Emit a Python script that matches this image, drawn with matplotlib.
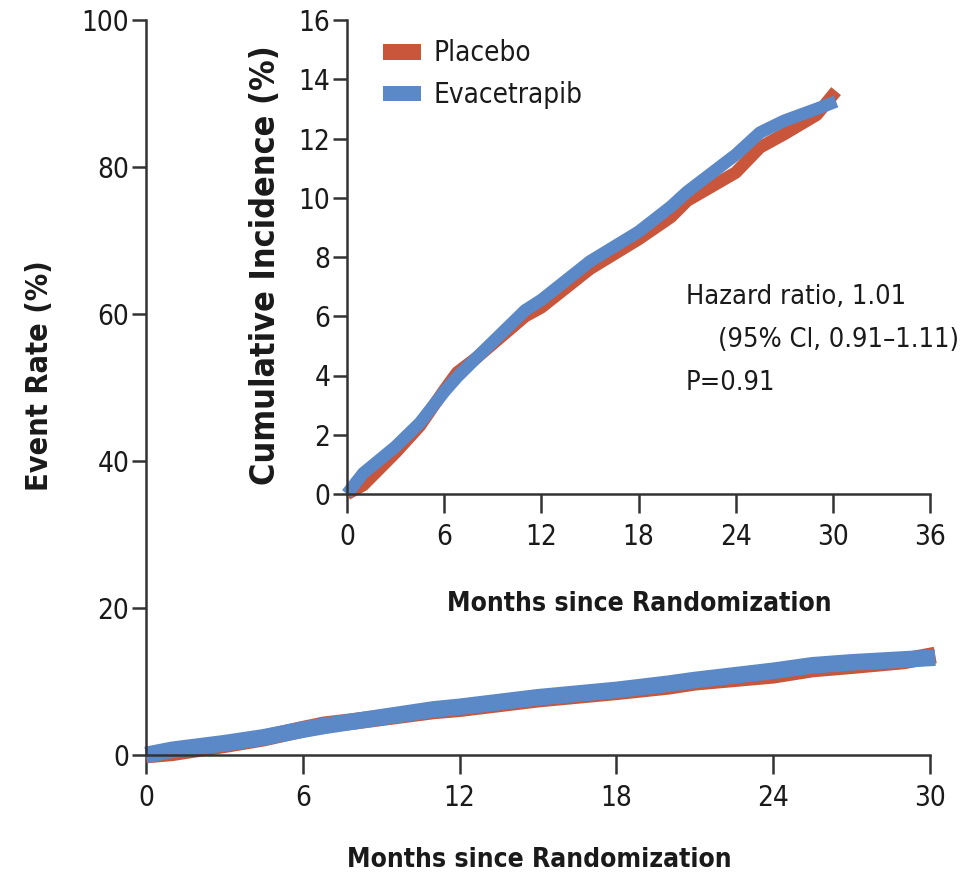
import matplotlib
matplotlib.use("Agg")
import matplotlib.pyplot as plt
from matplotlib.patches import Patch

# ---- data ----
months = [0, 1, 3, 4.5, 6, 6.8, 8, 9.5, 11, 12, 15, 18, 20, 21, 24, 25.5, 27, 29, 30.2]
evacetrapib = [0, 0.7, 1.6, 2.4, 3.45, 3.95, 4.6, 5.4, 6.2, 6.55, 7.85, 8.85, 9.7, 10.2, 11.45, 12.2, 12.6, 13.0, 13.25]
placebo = [0, 0.3, 1.4, 2.3, 3.5, 4.1, 4.6, 5.3, 6.0, 6.3, 7.6, 8.6, 9.35, 9.9, 10.85, 11.7, 12.15, 12.8, 13.6]

main_xticks = [0, 6, 12, 18, 24, 30]
main_yticks = [0, 20, 40, 60, 80, 100]
inset_xticks = [0, 6, 12, 18, 24, 30, 36]
inset_yticks = [0, 2, 4, 6, 8, 10, 12, 14, 16]
series_names = ["Placebo", "Evacetrapib"]
stats_lines = ["Hazard ratio, 1.01", "(95% Cl, 0.91\u20131.11)", "P=0.91"]

RED = "#C9553A"
BLUE = "#5B88C6"
AX = "#333333"
TXT = "#1a1a1a"

plt.rcParams["font.family"] = ["DejaVu Sans"]
plt.rcParams["font.stretch"] = "condensed"
FS = 20

W, H = 972, 882
fig = plt.figure(figsize=(W / 100, H / 100), dpi=100)


def fx(px):
    return px / W


def fy(py):
    return 1 - py / H


def style(ax):
    for s in ("top", "right"):
        ax.spines[s].set_visible(False)
    for s in ("left", "bottom"):
        ax.spines[s].set_color(AX)
        ax.spines[s].set_linewidth(1.8)
    ax.tick_params(axis="y", length=10, width=1.8, color=AX, labelsize=FS,
                   labelcolor=TXT, pad=2)
    ax.tick_params(axis="x", length=14, width=1.8, color=AX, labelsize=FS,
                   labelcolor=TXT, pad=7)


# main axes
ax = fig.add_axes([fx(146), fy(755), fx(930 - 146), (755 - 20) / H])
ax.set_xlim(0, 30)
ax.set_ylim(0, 100)
ax.set_xticks(main_xticks)
ax.set_yticks(main_yticks)
style(ax)
ax.plot(months, placebo, color=RED, lw=12, solid_capstyle="butt", clip_on=False)
ax.plot(months, evacetrapib, color=BLUE, lw=12, solid_capstyle="butt", clip_on=False)

# inset axes
ax2 = fig.add_axes([fx(347), fy(494), fx(930 - 347), (494 - 20) / H])
ax2.set_facecolor("none")
ax2.set_xlim(0, 36)
ax2.set_ylim(0, 16)
ax2.set_xticks(inset_xticks)
ax2.set_yticks(inset_yticks)
style(ax2)
ax2.plot(months, placebo, color=RED, lw=9, solid_capstyle="butt", clip_on=False)
ax2.plot(months, evacetrapib, color=BLUE, lw=9, solid_capstyle="butt", clip_on=False)

handles = [Patch(facecolor=RED, edgecolor="none"), Patch(facecolor=BLUE, edgecolor="none")]
ax2.legend(handles, series_names, loc="upper left", bbox_to_anchor=(0.029, 1.0),
           frameon=False, fontsize=FS, handlelength=1.35, handleheight=0.5,
           handletextpad=0.45, labelspacing=0.5, borderaxespad=0.3,
           labelcolor=TXT)

# stats text
SF = 19.5
fig.text(fx(686), fy(297), stats_lines[0], fontsize=SF, color=TXT, va="center", ha="left")
fig.text(fx(718), fy(340), stats_lines[1], fontsize=SF, color=TXT, va="center", ha="left")
fig.text(fx(686), fy(383), stats_lines[2], fontsize=SF, color=TXT, va="center", ha="left")

# axis labels
fig.text(fx(40), fy(376), "Event Rate (%)", rotation=90, fontsize=22, fontweight="bold",
         color=TXT, ha="center", va="center")
fig.text(fx(265), fy(265), "Cumulative Incidence (%)", rotation=90, fontsize=24.5,
         fontweight="bold", color=TXT, ha="center", va="center")
fig.text(fx(539), fy(860), "Months since Randomization", fontsize=19, fontweight="bold",
         color=TXT, ha="center", va="center")
fig.text(fx(639), fy(604), "Months since Randomization", fontsize=19, fontweight="bold",
         color=TXT, ha="center", va="center")

fig.savefig("out.png", dpi=100, facecolor="white")
